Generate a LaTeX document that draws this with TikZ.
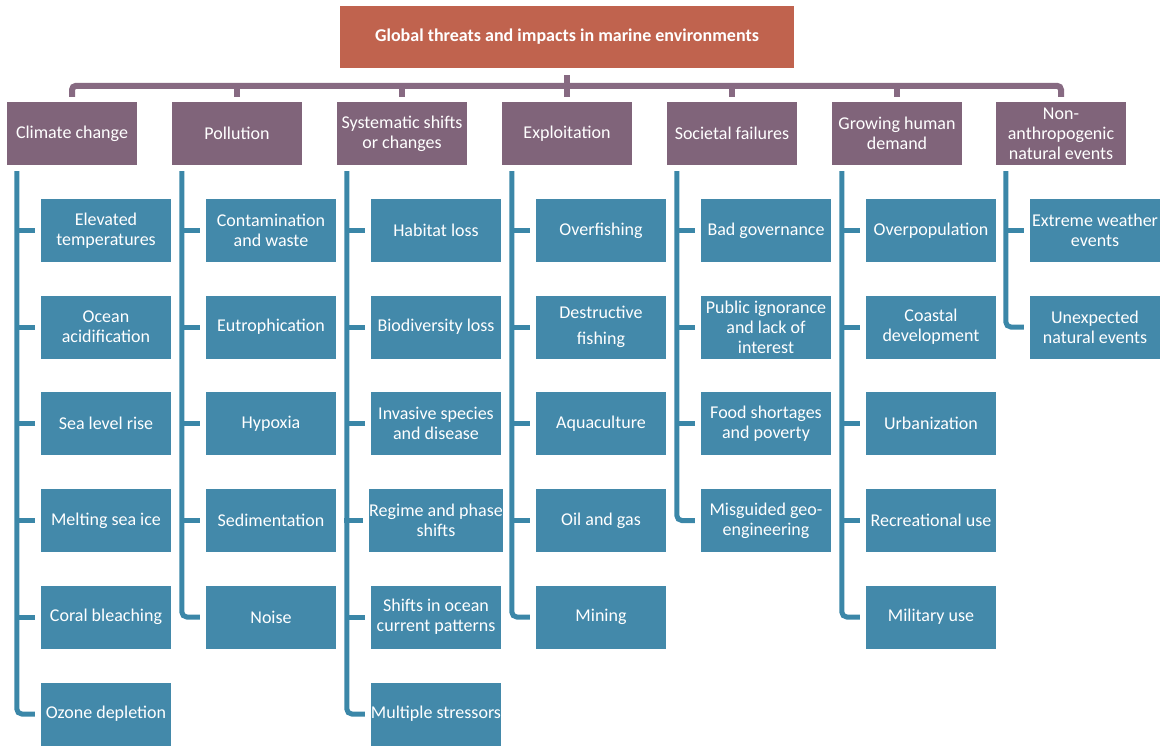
\documentclass[tikz,border=0pt]{standalone}
\usepackage{fontspec}
\setmainfont{Carlito}
\definecolor{topred}{HTML}{C0634E}
\definecolor{catpurple}{HTML}{80647A}
\definecolor{leafblue}{HTML}{4389AA}
\definecolor{linepurple}{HTML}{876A82}
\definecolor{lineblue}{HTML}{3B87A8}
\begin{document}
\begin{tikzpicture}[x=1pt,y=-1pt,
  topbox/.style={fill=topred, text=white, font=\fontsize{18}{20}\selectfont\bfseries, minimum width=454pt, minimum height=62pt, inner sep=0pt, align=center},
  catbox/.style={fill=catpurple, text=white, font=\fontsize{18}{20}\selectfont, minimum width=130pt, minimum height=63pt, inner sep=0pt, align=center},
  leafbox/.style={fill=leafblue, text=white, font=\fontsize{18}{20}\selectfont, minimum width=130pt, minimum height=63pt, inner sep=0pt, align=center},
  purpleline/.style={draw=linepurple, line width=6pt, rounded corners=4pt},
  blueline/.style={draw=lineblue, line width=5pt, rounded corners=5pt}]
\useasboundingbox (0,0) rectangle (1167,746);

\node[topbox] (top) at (567,37) {Global threats and impacts in marine environments};

\node[catbox] (c1) at (72,133.5) {Climate change};
\node[catbox] (c2) at (237,133.5) {Pollution};
\node[catbox] (c3) at (402,133.5) {Systematic shifts\\or changes};
\node[catbox] (c4) at (567,133.5) {Exploitation};
\node[catbox] (c5) at (732,133.5) {Societal failures};
\node[catbox] (c6) at (897,133.5) {Growing human\\demand};
\node[catbox] (c7) at (1061,133.5) {Non-\\anthropogenic\\natural events};

% Climate change
\node[leafbox] (c1a) at (106,230.5) {Elevated\\temperatures};
\node[leafbox] (c1b) at (106,327) {Ocean\\acidification};
\node[leafbox] (c1c) at (106,423.5) {Sea level rise};
\node[leafbox] (c1d) at (106,520.5) {Melting sea ice};
\node[leafbox] (c1e) at (106,617) {Coral bleaching};
\node[leafbox] (c1f) at (106,714) {Ozone depletion};
% Pollution
\node[leafbox] (c2a) at (271,230.5) {Contamination\\and waste};
\node[leafbox] (c2b) at (271,327) {Eutrophication};
\node[leafbox] (c2c) at (271,423.5) {Hypoxia};
\node[leafbox] (c2d) at (271,520.5) {Sedimentation};
\node[leafbox] (c2e) at (271,617) {Noise};
% Systematic shifts
\node[leafbox] (c3a) at (436,230.5) {Habitat loss};
\node[leafbox] (c3b) at (436,327) {Biodiversity loss};
\node[leafbox] (c3c) at (436,423.5) {Invasive species\\and disease};
\node[leafbox] (c3d) at (436,520.5) {Regime and phase\\shifts};
\node[leafbox] (c3e) at (436,617) {Shifts in ocean\\current patterns};
\node[leafbox] (c3f) at (436,714) {Multiple stressors};
% Exploitation
\node[leafbox] (c4a) at (601,230.5) {Overfishing};
\node[leafbox] (c4b) at (601,327) {Destructive\\[6pt]fishing};
\node[leafbox] (c4c) at (601,423.5) {Aquaculture};
\node[leafbox] (c4d) at (601,520.5) {Oil and gas};
\node[leafbox] (c4e) at (601,617) {Mining};
% Societal failures
\node[leafbox] (c5a) at (766,230.5) {Bad governance};
\node[leafbox] (c5b) at (766,327) {Public ignorance\\and lack of\\interest};
\node[leafbox] (c5c) at (766,423.5) {Food shortages\\and poverty};
\node[leafbox] (c5d) at (766,520.5) {Misguided geo-\\engineering};
% Growing human demand
\node[leafbox] (c6a) at (931,230.5) {Overpopulation};
\node[leafbox] (c6b) at (931,327) {Coastal\\development};
\node[leafbox] (c6c) at (931,423.5) {Urbanization};
\node[leafbox] (c6d) at (931,520.5) {Recreational use};
\node[leafbox] (c6e) at (931,617) {Military use};
% Non-anthropogenic
\node[leafbox] (c7a) at (1095,230.5) {Extreme weather\\events};
\node[leafbox] (c7b) at (1095,327) {Unexpected\\natural events};

% purple tree
\draw[purpleline] ([yshift=5pt]c1.north) -- ++(0,-11) -| ([yshift=5pt]c7.north);
\foreach \c in {c2,c3,c5,c6} {
  \draw[purpleline] ([yshift=5pt]\c.north) -- ++(0,-12);
}
\draw[purpleline] ([yshift=-7pt]top.south) -- ([yshift=5pt]c4.north);

% blue spines
\foreach \c/\last in {c1/c1f,c2/c2e,c3/c3f,c4/c4e,c5/c5d,c6/c6e,c7/c7b} {
  \draw[blueline] ([xshift=10pt,yshift=-6pt]\c.south west) |- ([xshift=-6pt]\last.west);
}
\foreach \n in {c1a,c1b,c1c,c1d,c1e,c2a,c2b,c2c,c2d,c3a,c3b,c3c,c3d,c3e,c4a,c4b,c4c,c4d,c5a,c5b,c5c,c6a,c6b,c6c,c6d,c7a} {
  \draw[blueline] ([xshift=-6pt]\n.west) -- ++(-19,0);
}
\end{tikzpicture}
\end{document}
